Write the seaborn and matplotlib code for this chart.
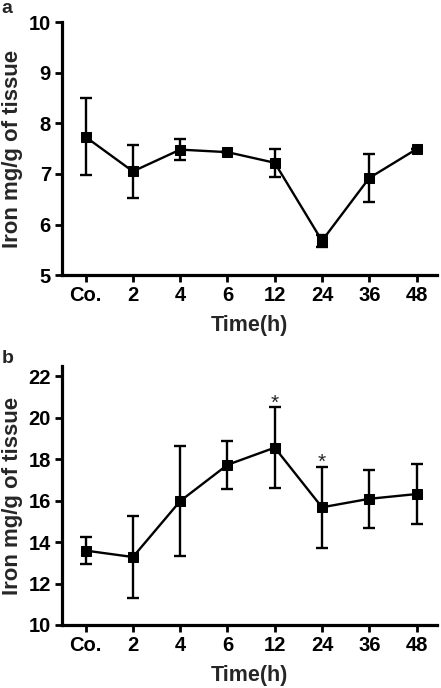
import matplotlib
matplotlib.use("Agg")
import matplotlib.pyplot as plt
import seaborn as sns
import pandas as pd
import numpy as np

categories = ["Co.", "2", "4", "6", "12", "24", "36", "48"]
iron_a = [7.73, 7.05, 7.48, 7.43, 7.22, 5.68, 6.92, 7.49]
err_a = [0.76, 0.52, 0.20, 0.0, 0.28, 0.12, 0.48, 0.0]
iron_b = [13.59, 13.28, 15.98, 17.73, 18.56, 15.68, 16.09, 16.32]
err_b = [0.64, 1.98, 2.66, 1.16, 1.97, 1.96, 1.40, 1.44]
stars_b = ["", "", "", "", "*", "*", "", ""]

sns.set_theme(style="ticks")
plt.rcParams['font.family'] = ['Liberation Sans', 'DejaVu Sans']
plt.rcParams['font.weight'] = 'bold'

fig = plt.figure(figsize=(4.41, 6.88), dpi=100)
ax_a = fig.add_axes([0.1406, 0.600, 0.850, 0.368])
ax_b = fig.add_axes([0.1406, 0.0916, 0.850, 0.3764])

def panel(ax, vals, errs, ylim, yticks, stars=None):
    df = pd.DataFrame({"x": np.arange(len(categories)), "y": vals, "e": errs})
    ax.errorbar(df["x"], df["y"], yerr=df["e"], fmt="none", ecolor="black",
                elinewidth=1.7, capsize=4.5, capthick=1.7, zorder=2)
    sns.lineplot(data=df, x="x", y="y", ax=ax, color="black", linewidth=1.7,
                 marker="s", markersize=7.8, markeredgecolor="black",
                 markerfacecolor="black", zorder=3)
    if stars is not None:
        for i, s in enumerate(stars):
            if s:
                ax.annotate(s, (i, vals[i] + errs[i]), xytext=(0, -4),
                            textcoords="offset points", ha="center", va="bottom",
                            fontsize=15, fontweight="normal")
    ax.set_xlim(-0.5, 7.43)
    ax.set_ylim(*ylim)
    ax.set_yticks(yticks)
    ax.set_xticks(np.arange(len(categories)))
    ax.set_xticklabels(categories)
    sns.despine(ax=ax)
    for sp in ["left", "bottom"]:
        ax.spines[sp].set_linewidth(2.3)
        ax.spines[sp].set_color("black")
    ax.tick_params(axis="both", width=2.0, length=5, color="black",
                   labelsize=14.5, labelcolor="black", pad=3)
    for lab in ax.get_xticklabels() + ax.get_yticklabels():
        lab.set_fontweight("bold")
    ax.set_xlabel("Time(h)", fontsize=15.5, fontweight="bold", labelpad=7)
    ax.set_ylabel("Iron mg/g of tissue", fontsize=16, fontweight="bold", labelpad=4)

panel(ax_a, iron_a, err_a, (5, 10), [5, 6, 7, 8, 9, 10])
panel(ax_b, iron_b, err_b, (10, 22.5), [10, 12, 14, 16, 18, 20, 22], stars_b)

fig.text(0.003, 1.0, "a", fontsize=14, fontweight="bold", va="top", ha="left")
fig.text(0.003, 0.492, "b", fontsize=14, fontweight="bold", va="top", ha="left")

fig.savefig("out.png", dpi=100, facecolor="white")
